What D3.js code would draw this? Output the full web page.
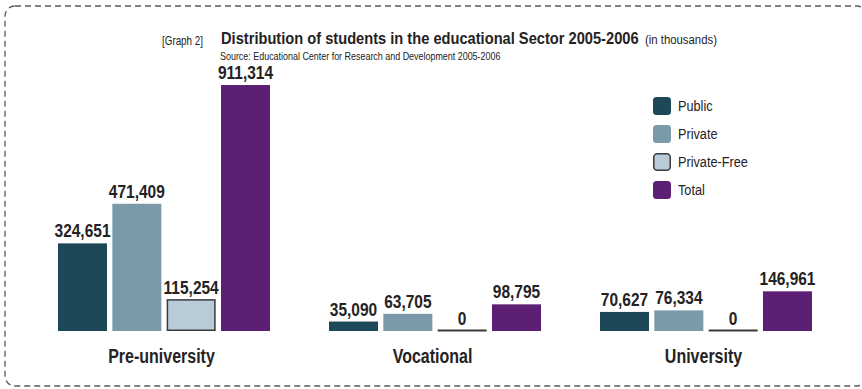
<!DOCTYPE html>
<html>
<head>
<meta charset="utf-8">
<script src="https://cdn.jsdelivr.net/npm/d3@7"></script>
<style>
  html, body { margin: 0; padding: 0; background: #fff; }
  svg { display: block; }
  text { font-family: "Liberation Sans", Arial, sans-serif; fill: #252223; }
</style>
</head>
<body>
<svg id="chart" width="862" height="389"></svg>
<script>
// Students per sector, 2005-2006
const categories = ["Pre-university", "Vocational", "University"];
const seriesNames = ["Public", "Private", "Private-Free", "Total"];
const publicValues = [324651, 35090, 70627];
const privateValues = [471409, 63705, 76334];
const privateFreeValues = [115254, 0, 0];
const totalValues = [911314, 98795, 146961];
const seriesColors = ["#1c4858", "#7a9aa9", "#b9cbd6", "#5c1f74"];
const outlineColor = "#3a3a3a";

const seriesValues = [publicValues, privateValues, privateFreeValues, totalValues];
const fmt = d3.format(",");

// Narrow the type horizontally for a condensed look.
// k is either a scale factor (< 2) or a target width in pixels.
function squeeze(sel, k) {
  sel.each(function () {
    const t = d3.select(this);
    const x = +t.attr("x") || 0, yy = +t.attr("y") || 0;
    const w = this.getComputedTextLength();
    const s = k < 2 ? k : k / w;
    t.attr("x", 0).attr("y", 0)
      .attr("transform", `translate(${x},${yy}) scale(${s},1)`);
  });
  return sel;
}

const svg = d3.select("#chart");

// Dashed frame with rounded corners
svg.append("rect")
  .attr("x", 5).attr("y", 6)
  .attr("width", 862).attr("height", 380)
  .attr("rx", 10).attr("ry", 10)
  .attr("fill", "none")
  .attr("stroke", "#5a5a5a")
  .attr("stroke-width", 1.3)
  .attr("stroke-dasharray", "6,4");

// Heading
squeeze(svg.append("text").attr("x", 162).attr("y", 44.5).attr("font-size", 12)
  .text("[Graph 2]"), 41);
squeeze(svg.append("text").attr("x", 221).attr("y", 44).attr("font-size", 16.5).attr("font-weight", "bold")
  .text("Distribution of students in the educational Sector 2005-2006"), 418);
squeeze(svg.append("text").attr("x", 645).attr("y", 44).attr("font-size", 13.5)
  .text("(in thousands)"), 72);
squeeze(svg.append("text").attr("x", 220).attr("y", 60).attr("font-size", 10)
  .text("Source: Educational Center for Research and Development 2005-2006"), 281);

// Scales
const baseline = 331;
const y = d3.scaleLinear().domain([0, 1000000]).range([baseline, baseline - 269.9]);
const x0 = d3.scaleBand().domain(categories).range([58, 812]).paddingInner(0.2177).paddingOuter(0);
const x1 = d3.scaleBand().domain(seriesNames).range([0, x0.bandwidth()]).paddingInner(0.098).paddingOuter(0);

const groups = svg.append("g").selectAll("g")
  .data(categories)
  .join("g")
  .attr("transform", d => `translate(${x0(d)},0)`);

groups.each(function (cat, ci) {
  const g = d3.select(this);
  const rows = seriesNames.map((s, si) => ({ s, si, v: seriesValues[si][ci] }));
  const outlined = d => d.si === 2;

  // Bars with a height
  g.selectAll("rect")
    .data(rows.filter(d => d.v > 0))
    .join("rect")
    .attr("x", d => x1(d.s) + (outlined(d) ? 0.75 : 0))
    .attr("width", d => x1.bandwidth() - (outlined(d) ? 1.5 : 0))
    .attr("y", d => y(d.v))
    .attr("height", d => baseline - y(d.v) - (outlined(d) ? 0.75 : 0))
    .attr("fill", d => seriesColors[d.si])
    .attr("stroke", d => outlined(d) ? outlineColor : "none")
    .attr("stroke-width", 1.5);

  // Empty bars collapse to their outline along the baseline
  g.selectAll("line.zero")
    .data(rows.filter(d => d.v === 0))
    .join("line")
    .attr("class", "zero")
    .attr("x1", d => x1(d.s))
    .attr("x2", d => x1(d.s) + x1.bandwidth())
    .attr("y1", y(0) - 0.5)
    .attr("y2", y(0) - 0.5)
    .attr("stroke", outlineColor)
    .attr("stroke-width", 1.8);

  squeeze(g.selectAll("text.val")
    .data(rows)
    .join("text")
    .attr("class", "val")
    .attr("x", d => x1(d.s) + x1.bandwidth() / 2)
    .attr("y", d => y(d.v) - 6)
    .attr("text-anchor", "middle")
    .attr("font-size", 19)
    .attr("font-weight", "bold")
    .text(d => fmt(d.v)), 0.815);

  squeeze(g.append("text")
    .attr("x", x0.bandwidth() / 2 - 2.5)
    .attr("y", 363)
    .attr("text-anchor", "middle")
    .attr("font-size", 19.5)
    .attr("font-weight", "bold")
    .text(cat), 0.82);
});

// Legend
const legend = svg.append("g").attr("transform", "translate(653,97)");
const items = legend.selectAll("g")
  .data(seriesNames)
  .join("g")
  .attr("transform", (d, i) => `translate(0,${i * 28})`);
items.append("rect")
  .attr("x", (d, i) => i === 2 ? 0.75 : 0)
  .attr("y", (d, i) => i === 2 ? 0.75 : 0)
  .attr("width", (d, i) => i === 2 ? 16.5 : 18)
  .attr("height", (d, i) => i === 2 ? 16.5 : 18)
  .attr("rx", 3.5).attr("ry", 3.5)
  .attr("fill", (d, i) => seriesColors[i])
  .attr("stroke", (d, i) => i === 2 ? outlineColor : "none")
  .attr("stroke-width", 1.5);
squeeze(items.append("text")
  .attr("x", 25).attr("y", 13.5)
  .attr("font-size", 15.5)
  .text(d => d), 0.82);
</script>
</body>
</html>
